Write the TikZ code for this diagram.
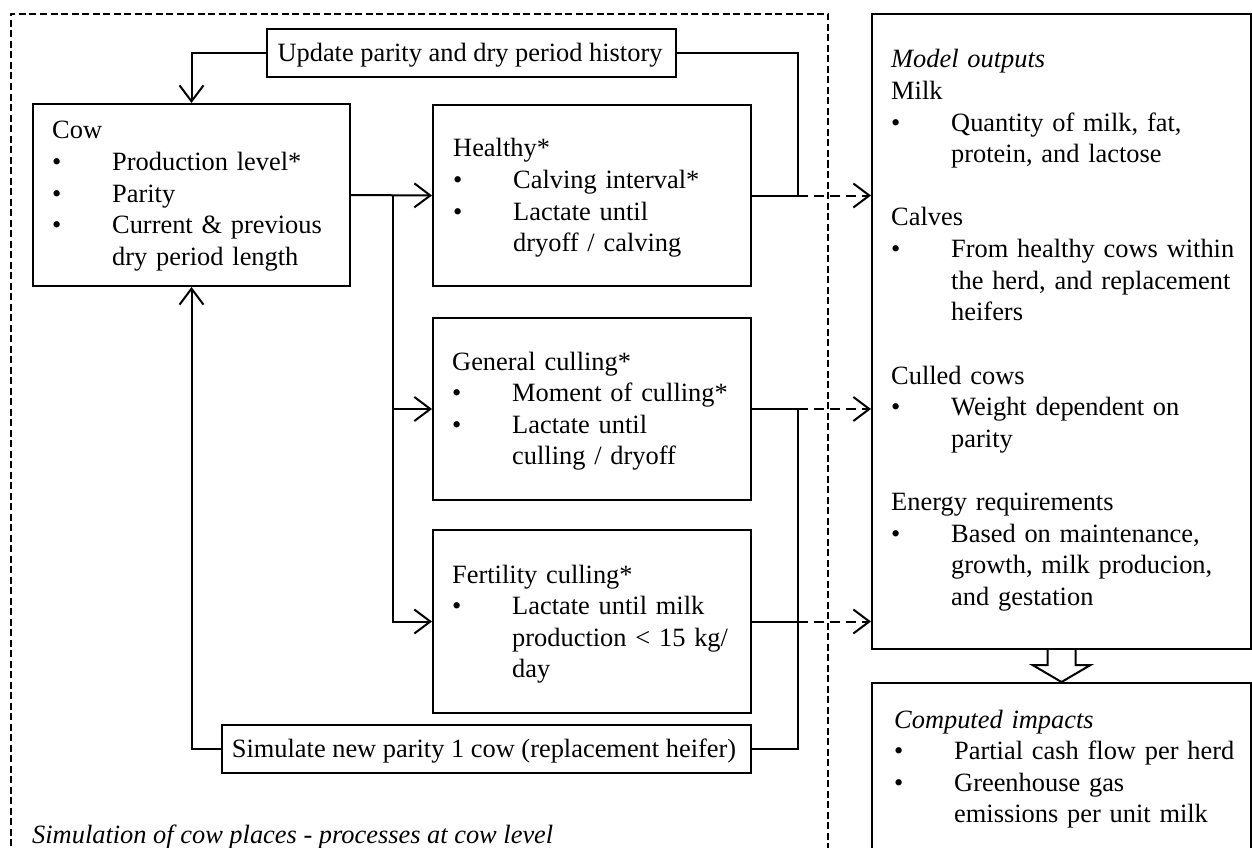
\documentclass[tikz,border=0pt]{standalone}
\usepackage{fontspec}
\setmainfont{Liberation Serif}
\usetikzlibrary{arrows.meta,calc}
\newcommand{\bul}{\makebox[60pt][l]{•}}
\newcommand{\ind}{\hspace*{60pt}}
\begin{document}
\begin{tikzpicture}[x=1pt,y=-1pt,
  box/.style={draw, line width=2pt, rectangle, anchor=north west, inner sep=0pt},
  outer/.style={draw, line width=2pt, dash pattern=on 7pt off 3.5pt, rectangle, anchor=north west, inner sep=0pt},
  txt/.style={anchor=base west, inner sep=0pt, text width=390pt, font=\fontsize{26.4}{31.6}\selectfont},
  ctxt/.style={anchor=base, inner sep=0pt, font=\fontsize{26.4}{31.6}\selectfont},
  line/.style={line width=2pt},
  arr/.style={line width=2pt, -{Straight Barb[length=16pt,width=24pt]}},
  darr/.style={line width=2pt, dash pattern=on 10pt off 6pt, -{Straight Barb[length=16pt,width=24pt]}},
]
\clip (0,0) rectangle (1252,848);

% outer dashed container
\node[outer, minimum width=817, minimum height=880] (sim) at (10,13) {};

% boxes
\node[box, minimum width=409, minimum height=48] (upd) at (266,28) {};
\node[box, minimum width=317, minimum height=182] (cow) at (32,103) {};
\node[box, minimum width=318, minimum height=181] (healthy) at (432,104) {};
\node[box, minimum width=318, minimum height=182] (gen) at (432,317) {};
\node[box, minimum width=318, minimum height=183] (fert) at (432,529) {};
\node[box, minimum width=529, minimum height=48] (simu) at (221,724) {};
\node[box, minimum width=379, minimum height=635] (mo) at (871,13) {};
\node[box, minimum width=379, minimum height=250] (ci) at (871,682) {};

% texts
\node[ctxt] (updt) at (470,62) {Update parity and dry period history};
\node[ctxt] (simut) at (484,757) {Simulate new parity 1 cow (replacement heifer)};
\node[txt] (cowt) at (52,139) {Cow\\ \bul Production level*\\ \bul Parity\\ \bul Current \& previous\\ \ind dry period length};
\node[txt] (healthyt) at (453,157) {Healthy*\\ \bul Calving interval*\\ \bul Lactate until\\ \ind dryoff / calving};
\node[txt] (gent) at (452,370) {General culling*\\ \bul Moment of culling*\\ \bul Lactate until\\ \ind culling / dryoff};
\node[txt] (fertt) at (452,583) {Fertility culling*\\ \bul Lactate until milk\\ \ind production < 15 kg/\\ \ind day};
\node[txt] (mot) at (891,68) {\textit{Model outputs}\\ Milk\\ \bul Quantity of milk, fat,\\ \ind protein, and lactose\\[31.6pt] Calves\\ \bul From healthy cows within\\ \ind the herd, and replacement\\ \ind heifers\\[31.6pt] Culled cows\\ \bul Weight dependent on\\ \ind parity\\[31.6pt] Energy requirements\\ \bul Based on maintenance,\\ \ind growth, milk producion,\\ \ind and gestation};
\node[txt] (cit) at (894,728) {\textit{Computed impacts}\\ \bul Partial cash flow per herd\\ \bul Greenhouse gas\\ \ind emissions per unit milk};
\node[anchor=base west, inner sep=0pt, font=\fontsize{26.4}{31.6}\selectfont\itshape] (cap) at (32,843) {Simulation of cow places - processes at cow level};

% helper coordinates
\path (cow.east) -- (healthy.west) coordinate[pos=0.52] (br);
\coordinate (jx) at (798,0);

% connectors
\draw[arr] (cow.east) -- (healthy.west);
\draw[arr] (br) |- (gen.west);
\draw[arr] (br) |- (fert.west);
\draw[line] (healthy.east) -- (healthy.east -| jx) |- (upd.east);
\draw[arr] (upd.west) -| (cow.north);
\draw[line] (gen.east) -- (gen.east -| jx) |- (simu.east);
\draw[line] (fert.east) -- (fert.east -| jx);
\draw[arr] (simu.west) -| (cow.south);
\draw[darr] (healthy.east -| jx) -- (healthy.east -| mo.west);
\draw[darr] (gen.east -| jx) -- (gen.east -| mo.west);
\draw[darr] (fert.east -| jx) -- (fert.east -| mo.west);

% block arrow
\draw[line, fill=white] ($(mo.south)+(-14,0)$) -- ++(0,15) -- ++(-15,0) -- (ci.north) -- ($(mo.south)+(29,15)$) -- ++(-15,0) -- ++(0,-15);
\end{tikzpicture}
\end{document}
